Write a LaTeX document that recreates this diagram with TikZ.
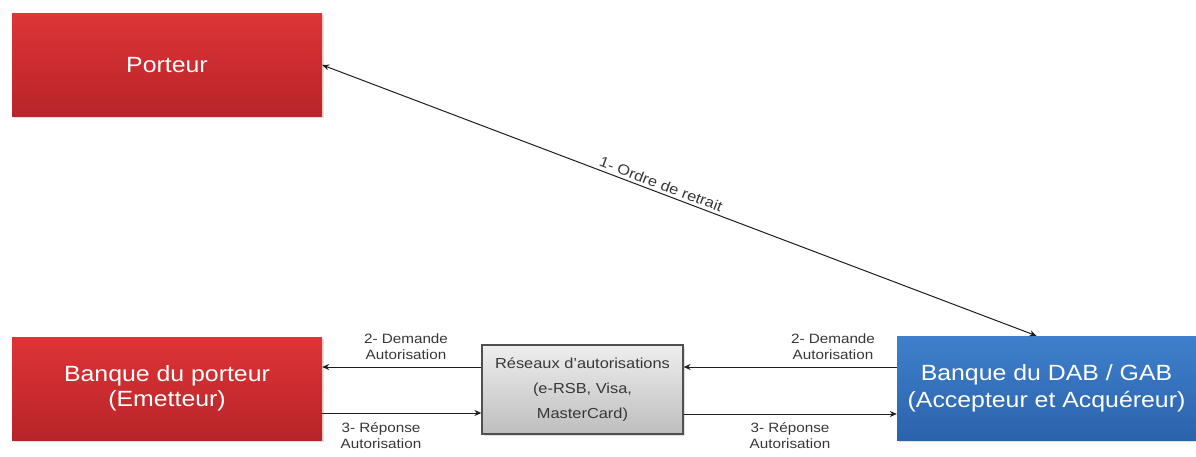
\documentclass[tikz,border=0pt]{standalone}
\usepackage{fontspec}
\setmainfont[FakeStretch=1.13]{Liberation Sans}
\usetikzlibrary{arrows.meta,shadows}
\definecolor{redtop}{RGB}{222,52,55}
\definecolor{redbot}{RGB}{184,36,40}
\definecolor{bluetop}{RGB}{62,128,204}
\definecolor{bluebot}{RGB}{44,98,172}
\definecolor{graytop}{RGB}{238,238,238}
\definecolor{graybot}{RGB}{190,190,190}
\definecolor{txtgray}{RGB}{55,55,55}
\tikzset{
  boxbase/.style={rectangle, inner sep=0pt, align=center,
    drop shadow={shadow xshift=1.5pt, shadow yshift=-2pt, opacity=0.25}},
  redbox/.style={boxbase, top color=redtop, bottom color=redbot, text=white,
    font=\fontsize{22}{25}\selectfont, minimum width=310pt, minimum height=103pt},
  bluebox/.style={boxbase, top color=bluetop, bottom color=bluebot, text=white,
    font=\fontsize{22}{27}\selectfont, minimum width=299pt, minimum height=104pt},
  graybox/.style={boxbase, top color=graytop, bottom color=graybot, text=txtgray,
    draw={rgb,255:red,80;green,80;blue,80}, line width=1.2pt,
    font=\fontsize{14.5}{25}\selectfont, minimum width=201pt, minimum height=89pt},
  conn/.style={draw={rgb,255:red,30;green,30;blue,30}, line width=1pt,
    -{Stealth[length=7pt,width=6pt]}},
  lbl/.style={text=txtgray, align=center, font=\fontsize{13.5}{16}\selectfont, inner sep=0pt}
}
\begin{document}
\begin{tikzpicture}[x=1pt,y=-1pt]
\useasboundingbox (0,0) rectangle (1196,457);
\node[redbox] (po) at (167,65) {Porteur};
\node[redbox] (bp) at (167,388.5) {Banque du porteur\\(Emetteur)};
\node[graybox] (res) at (582.5,389.5) {Réseaux d’autorisations\\(e-RSB, Visa,\\MasterCard)};
\node[bluebox] (dab) at (1046.5,388) {Banque du DAB / GAB\\(Accepteur et Acquéreur)};

\draw[conn,{Stealth[length=7pt,width=6pt]}-{Stealth[length=7pt,width=6pt]}] (po.east) -- node[pos=0.47, sloped, above=3pt, inner sep=0pt, text=txtgray, font=\fontsize{14.5}{16}\selectfont] (l1) {1- Ordre de retrait} ([xshift=-10pt]dab.north);

\draw[conn] ([yshift=22.5pt]res.west) -- ([yshift=22.5pt]res.west -| bp.east);
\draw[conn] ([yshift=-24.5pt]bp.east) -- ([yshift=-24.5pt]bp.east -| res.west);
\draw[conn] ([yshift=21pt]dab.west) -- ([yshift=21pt]dab.west -| res.east);
\draw[conn] ([yshift=-26pt]dab.west -| res.east) -- ([yshift=-26pt]dab.west);

\node[lbl] (l2a) at (406,347) {2- Demande\\Autorisation};
\node[lbl] (l3a) at (381,436) {3- Réponse\\Autorisation};
\node[lbl] (l2b) at (833,347) {2- Demande\\Autorisation};
\node[lbl] (l3b) at (790,436) {3- Réponse\\Autorisation};
\end{tikzpicture}
\end{document}
